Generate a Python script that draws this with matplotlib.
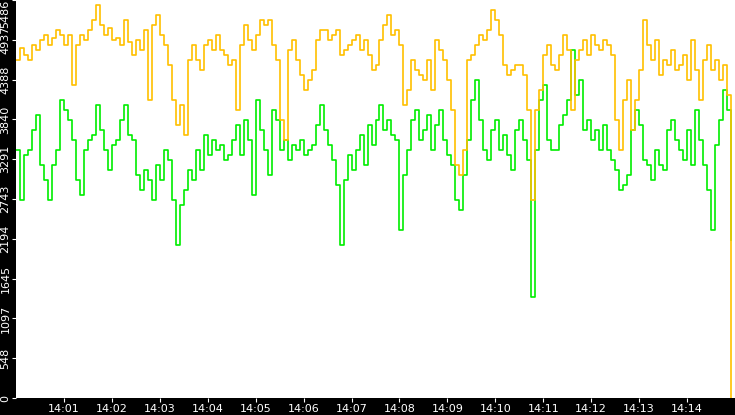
import matplotlib
matplotlib.use("Agg")
import matplotlib.pyplot as plt
import numpy as np

orange = [4660,4825,4730,4660,4865,4800,4935,5005,4865,4960,5075,5005,4865,5005,4315,4865,5005,4935,5075,5210,5415,5140,5005,5100,4935,4960,4865,5210,4905,4730,4935,4800,5075,4110,5140,5280,5005,4865,4590,4110,3765,4040,3625,4660,4865,
4660,4520,4865,4935,4800,5005,4800,4730,4590,4660,3970,4865,5140,4935,4800,5005,5210,5140,5210,4865,4660,3830,3555,4800,4935,4660,4455,4245,4385,4520,4935,5075,5075,4935,5005,5075,4730,4800,4865,4935,5005,4800,4935,4730,4520,
4590,4935,5140,5280,5005,5075,4865,4040,4245,4660,4520,4455,4385,4660,4245,4935,4800,4660,4385,3970,3210,3075,3420,4660,4730,4865,5005,4935,5075,5350,5210,5005,4590,4455,4520,4590,4590,4455,3970,2730,3970,4245,4730,4865,4590,
4520,4730,5005,4800,3970,4660,4800,4935,4730,5005,4865,4800,4935,4865,4730,3830,3420,4110,4385,3695,4110,4520,5210,4865,4660,4935,4455,4660,4590,4800,4520,4590,4730,4385,4935,4520,4110,4660,4865,4520,4660,4385,4590,4180,0]

green = [3420,2730,3350,3420,3695,3900,3210,3005,2730,3210,3420,4110,3970,3830,3555,3005,2800,3420,3555,3625,4040,3695,3420,3145,3490,3555,3830,4040,3625,3555,3075,2870,3145,3005,2730,3210,3005,3420,3280,2730,2110,2660,2870,3145,3005,
3420,3145,3625,3350,3555,3420,3490,3280,3350,3555,3765,3350,3830,3555,2800,4110,3695,3420,3075,3970,3830,3420,3555,3280,3490,3420,3555,3350,3420,3490,3765,4040,3695,3490,3280,2935,2110,3005,3350,3145,3420,3625,3210,3765,3490,
3830,4040,3695,3830,3625,3555,2315,3075,3420,3830,3970,3555,3695,3900,3420,3765,3970,3555,3350,3210,2730,2590,3075,3555,4110,4385,3830,3420,3280,3695,3830,3420,3625,3350,3145,3695,3830,3555,3280,1395,3420,4110,4315,3555,3420,
3420,3765,3900,4110,4800,4180,4385,3695,3830,3555,3695,3420,3765,3420,3280,3145,2870,2935,3075,3695,3970,3765,3280,3210,3005,3420,3210,3145,3695,3830,3555,3420,3280,3695,3210,3970,3555,3210,2870,2315,3490,3830,4245,3970,2180]

seconds = np.arange(len(orange)) * 5  # from 14:00:00
xtick_pos = [60 * m for m in range(1, 15)]
xtick_labels = ["14:%02d" % m for m in range(1, 15)]
ytick_vals = [0, 548, 1097, 1645, 2194, 2743, 3291, 3840, 4388, 4937, 5486]

fig = plt.figure(figsize=(7.35, 4.15), dpi=100, facecolor="black")
ax = fig.add_axes([16/735, 17/415, 719/735, 398/415])
ax.set_facecolor("white")
ax.plot(seconds, green, color="#00ee00", lw=1.2, drawstyle="steps-post")
ax.plot(seconds, orange, color="#ffc000", lw=1.2, drawstyle="steps-post")
ax.set_xlim(0, 900)
ax.set_ylim(0, 5486)
ax.set_xticks(xtick_pos)
ax.set_xticklabels(xtick_labels)
ax.set_yticks(ytick_vals)
ylabels = ax.set_yticklabels([str(v) for v in ytick_vals], rotation=90, va="center")
ylabels[-1].set_va("top")
ax.tick_params(colors="white", labelsize=8, length=3, pad=1)
for s in ax.spines.values():
    s.set_visible(False)
fig.savefig("out.png", dpi=100, facecolor="black")
